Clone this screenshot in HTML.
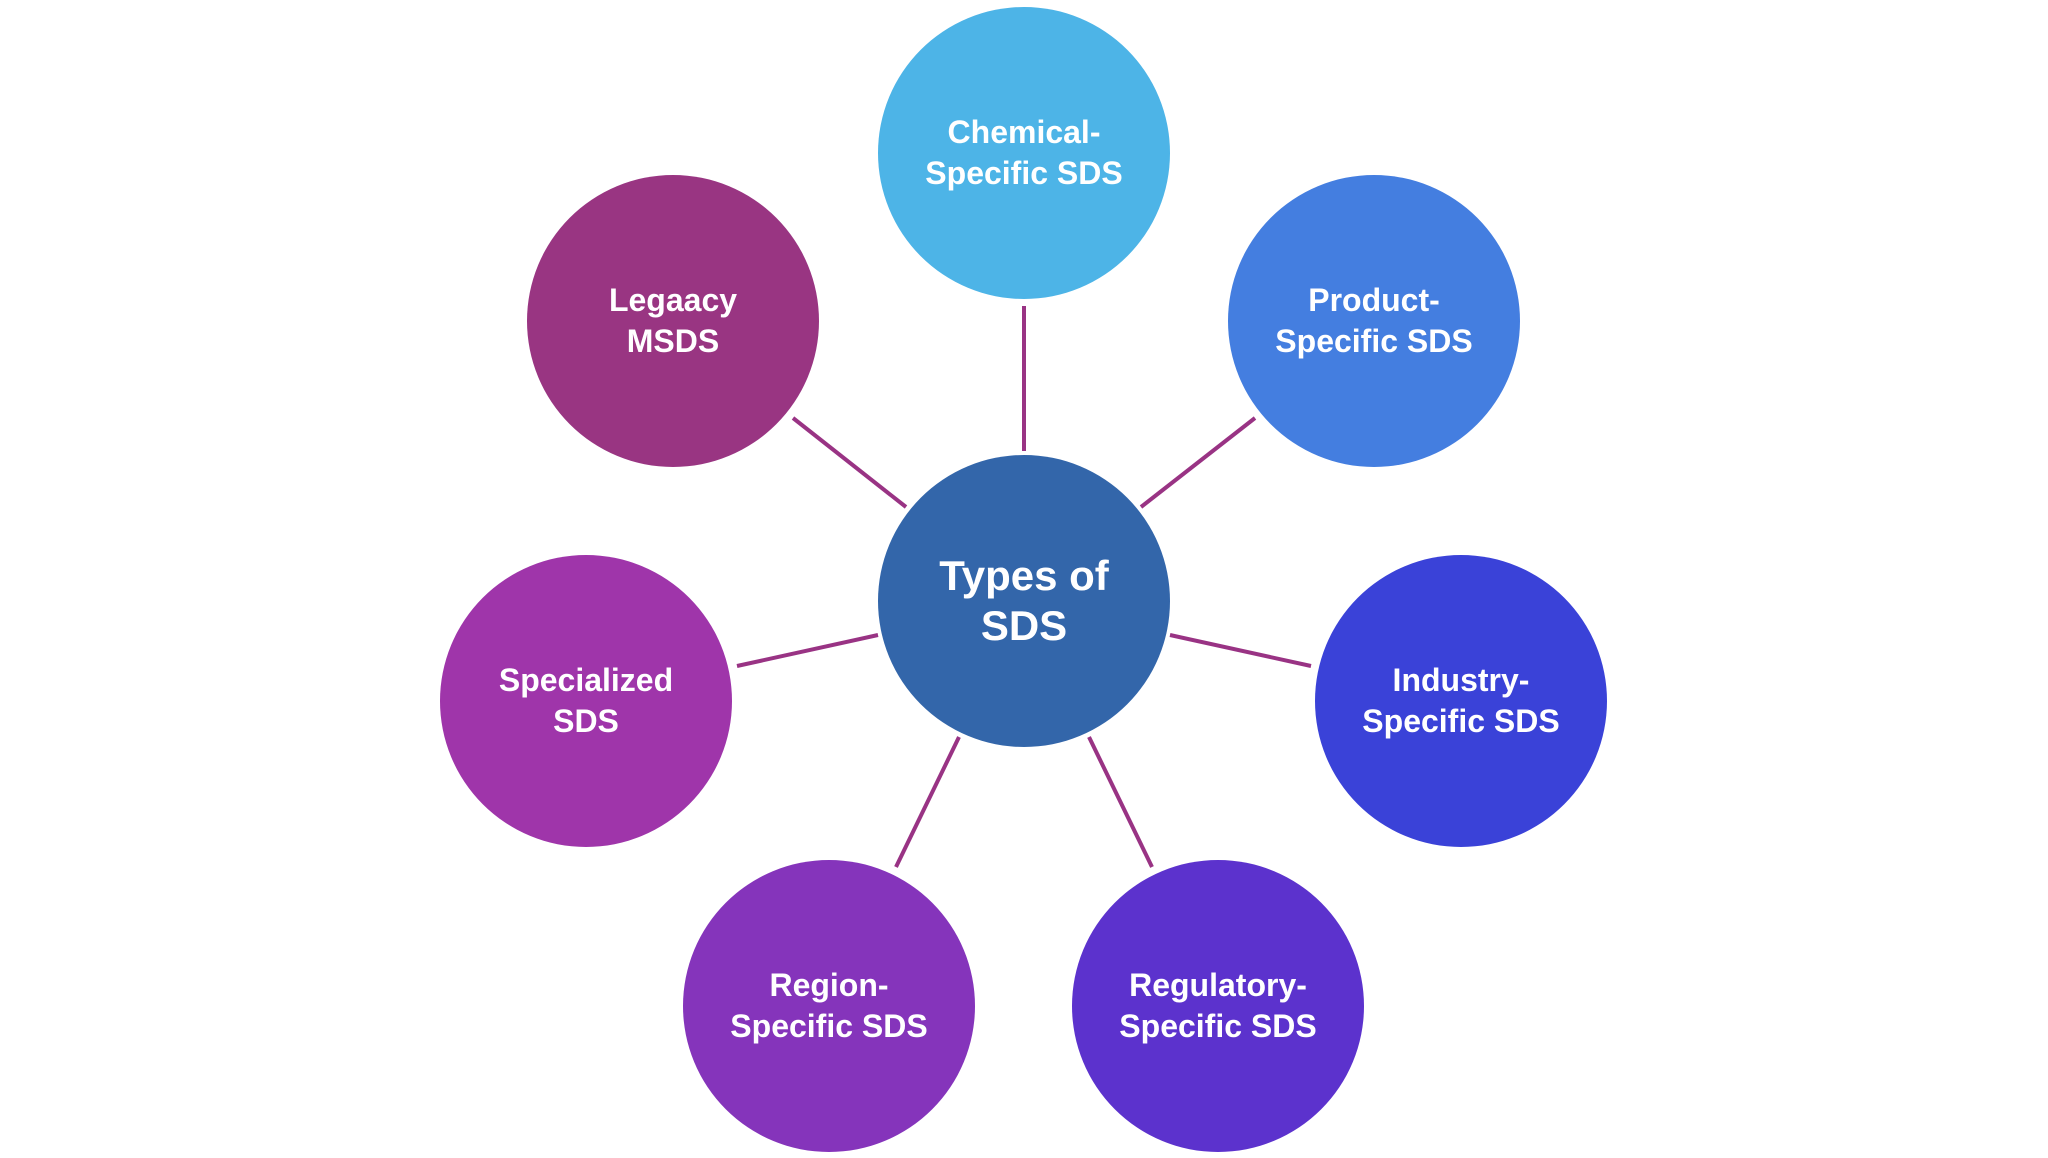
<!DOCTYPE html>
<html><head><meta charset="utf-8"><style>
html,body{margin:0;padding:0;background:#fff;}
svg{display:block;}
text{font-family:"Liberation Sans",sans-serif;font-weight:bold;fill:#fff;text-anchor:middle;}
</style></head><body>
<svg width="2048" height="1158" viewBox="0 0 2048 1158" xmlns="http://www.w3.org/2000/svg">
<g stroke="#993384" stroke-width="4">
<line x1="1024" y1="306" x2="1024" y2="451"/>
<line x1="1255" y1="418" x2="1141" y2="507"/>
<line x1="793" y1="418" x2="906" y2="507"/>
<line x1="737" y1="666" x2="878" y2="635"/>
<line x1="1170" y1="635" x2="1311" y2="666"/>
<line x1="959" y1="737" x2="896" y2="867"/>
<line x1="1089" y1="737" x2="1152" y2="867"/>
</g>
<circle cx="1024" cy="153" r="146" fill="#4DB4E7"/>
<circle cx="1374" cy="321" r="146" fill="#447EE0"/>
<circle cx="673" cy="321" r="146" fill="#993582"/>
<circle cx="586" cy="701" r="146" fill="#9F35AA"/>
<circle cx="1461" cy="701" r="146" fill="#3A42D8"/>
<circle cx="829" cy="1006" r="146" fill="#8534BB"/>
<circle cx="1218" cy="1006" r="146" fill="#5C32CD"/>
<circle cx="1024" cy="601" r="146" fill="#3366AA"/>
<g font-size="32">
<text x="1024" y="143">Chemical-</text><text x="1024" y="184">Specific SDS</text>
<text x="1374" y="311">Product-</text><text x="1374" y="352">Specific SDS</text>
<text x="673" y="311">Legaacy</text><text x="673" y="352">MSDS</text>
<text x="586" y="691">Specialized</text><text x="586" y="732">SDS</text>
<text x="1461" y="691">Industry-</text><text x="1461" y="732">Specific SDS</text>
<text x="829" y="996">Region-</text><text x="829" y="1037">Specific SDS</text>
<text x="1218" y="996">Regulatory-</text><text x="1218" y="1037">Specific SDS</text>
</g>
<g font-size="42">
<text x="1024" y="590">Types of</text><text x="1024" y="640">SDS</text>
</g>
</svg>
</body></html>
